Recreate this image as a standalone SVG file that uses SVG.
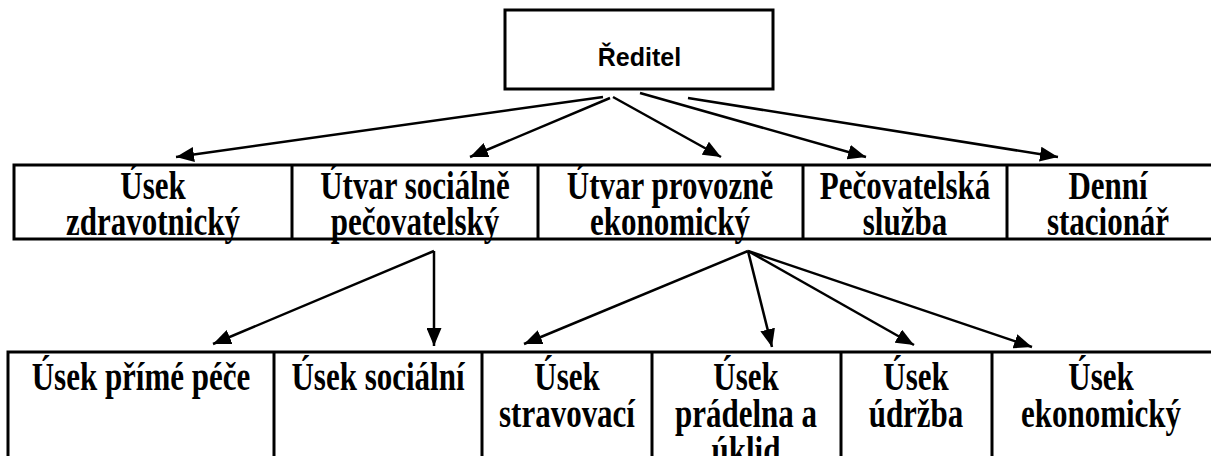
<svg xmlns="http://www.w3.org/2000/svg" width="1211" height="456" viewBox="0 0 1211 456">
<style>
.box{fill:#fff;stroke:#000;stroke-width:3}
.div{stroke:#000;stroke-width:3}
.t{font-family:"Liberation Serif","Times New Roman",serif;font-weight:bold;font-size:31px;text-anchor:middle;fill:#000}
.s{font-family:"Liberation Sans",Arial,sans-serif;font-weight:bold;font-size:25px;text-anchor:middle;fill:#000}
.c line{stroke:#000;stroke-width:2.5;marker-end:url(#ah)}
</style>
<defs>
<marker id="ah" markerUnits="userSpaceOnUse" viewBox="0 0 18 15" markerWidth="18" markerHeight="15" refX="18" refY="7.5" orient="auto">
<path d="M0,0 L18,7.5 L0,15 z" fill="#000"/>
</marker>
</defs>
<rect width="1211" height="456" fill="#fff"/>
<g id="reditel">
<rect class="box" x="505" y="10" width="268" height="79" stroke-width="2.5"/>
<text class="s" x="639.5" y="66">Ředitel</text>
</g>
<g id="row1">
<rect class="box" x="14" y="165" width="1205" height="74"/>
<line class="div" x1="292" y1="165" x2="292" y2="239"/>
<line class="div" x1="538" y1="165" x2="538" y2="239"/>
<line class="div" x1="803" y1="165" x2="803" y2="239"/>
<line class="div" x1="1007" y1="165" x2="1007" y2="239"/>
</g>
<g id="usek-zdravotnicky">
<text class="t" transform="translate(153,199) scale(1,1.3)">Úsek</text>
<text class="t" transform="translate(153,235) scale(1,1.3)">zdravotnický</text>
</g>
<g id="utvar-socialne">
<text class="t" transform="translate(415,199) scale(1,1.3)">Útvar sociálně</text>
<text class="t" transform="translate(415,235) scale(1,1.3)">pečovatelský</text>
</g>
<g id="utvar-provozne">
<text class="t" transform="translate(670,199) scale(1,1.3)">Útvar provozně</text>
<text class="t" transform="translate(670,235) scale(1,1.3)">ekonomický</text>
</g>
<g id="pecovatelska">
<text class="t" transform="translate(905,199) scale(1,1.3)">Pečovatelská</text>
<text class="t" transform="translate(905,235) scale(1,1.3)">služba</text>
</g>
<g id="denni">
<text class="t" transform="translate(1108,199) scale(1,1.3)">Denní</text>
<text class="t" transform="translate(1108,235) scale(1,1.3)">stacionář</text>
</g>
<g id="row2">
<rect class="box" x="8" y="352" width="1210" height="120"/>
<line class="div" x1="274" y1="352" x2="274" y2="460"/>
<line class="div" x1="482" y1="352" x2="482" y2="460"/>
<line class="div" x1="652" y1="352" x2="652" y2="460"/>
<line class="div" x1="841" y1="352" x2="841" y2="460"/>
<line class="div" x1="992" y1="352" x2="992" y2="460"/>
</g>
<g id="usek-prime-pece">
<text class="t" transform="translate(141,390) scale(1,1.3)">Úsek přímé péče</text>
</g>
<g id="usek-socialni">
<text class="t" transform="translate(378,390) scale(1,1.3)">Úsek sociální</text>
</g>
<g id="usek-stravovaci">
<text class="t" transform="translate(567,390) scale(1,1.3)">Úsek</text>
<text class="t" transform="translate(567,427) scale(1,1.3)">stravovací</text>
</g>
<g id="usek-pradelna">
<text class="t" transform="translate(746,390) scale(1,1.3)">Úsek</text>
<text class="t" transform="translate(746,427) scale(1,1.3)">prádelna a</text>
<text class="t" transform="translate(746,464) scale(1,1.3)">úklid</text>
</g>
<g id="usek-udrzba">
<text class="t" transform="translate(916,390) scale(1,1.3)">Úsek</text>
<text class="t" transform="translate(916,427) scale(1,1.3)">údržba</text>
</g>
<g id="usek-ekonomicky">
<text class="t" transform="translate(1101,390) scale(1,1.3)">Úsek</text>
<text class="t" transform="translate(1101,427) scale(1,1.3)">ekonomický</text>
</g>
<g id="connectors" class="c">
<line x1="603" y1="97" x2="176" y2="157"/>
<line x1="610" y1="98" x2="470" y2="157"/>
<line x1="613" y1="97" x2="721" y2="157"/>
<line x1="640" y1="93" x2="866" y2="157"/>
<line x1="688" y1="98" x2="1058" y2="157"/>
<line x1="434" y1="251" x2="213" y2="344"/>
<line x1="434" y1="251" x2="434" y2="346"/>
<line x1="748" y1="251" x2="524" y2="344"/>
<line x1="748" y1="251" x2="772" y2="347"/>
<line x1="748" y1="251" x2="914" y2="345"/>
<line x1="748" y1="251" x2="1032" y2="347"/>
</g>
</svg>
